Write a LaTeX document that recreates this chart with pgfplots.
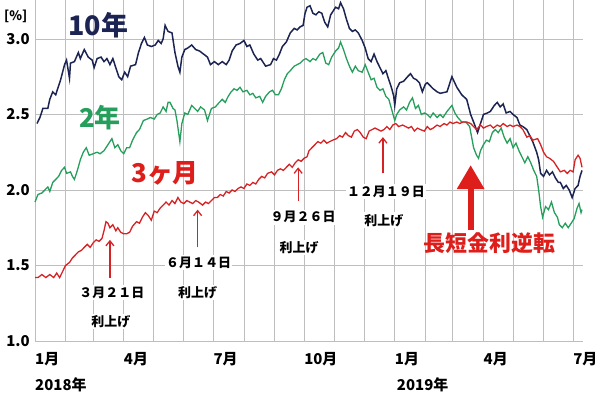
\documentclass[border=0pt]{standalone}
\usepackage{fontspec}
\setmainfont{Noto Sans CJK JP}
\usepackage{pgfplots}
\pgfplotsset{compat=1.18}
\usetikzlibrary{arrows.meta}
\definecolor{navy}{RGB}{27,36,82}
\definecolor{grn}{RGB}{38,158,92}
\definecolor{rd}{RGB}{214,34,36}
\definecolor{txtred}{RGB}{222,30,26}
\definecolor{gridc}{RGB}{190,190,190}
\begin{document}
\begin{tikzpicture}
\path[use as bounding box] (-35bp,-54bp) rectangle (565bp,341bp);
\begin{axis}[
  scale only axis, width=548bp, height=341bp,
  xmin=0, xmax=556, ymin=1, ymax=3.258,
  clip=false,
  axis line style={draw=none},
  major tick length=0pt,
  grid=major,
  major grid style={gridc, line width=0.9bp},
  xtick={0,31,59,90,120,151,181,212,243,273,304,334,365,396,424,455,485,516,546},
  xticklabels={1月,,,4月,,,7月,,,10月,,,1月,,,4月,,,7月},
  xticklabel style={anchor=north west, inner sep=0pt, yshift=-11bp, xshift=0bp, font=\bfseries\fontsize{15}{15}\selectfont},
  ytick={1,1.5,2,2.5,3},
  yticklabel style={anchor=east, inner sep=0pt, xshift=-5bp, font=\bfseries\fontsize{15}{15}\selectfont},
  /pgf/number format/assume math mode=true,
  /pgf/number format/fixed, /pgf/number format/fixed zerofill, /pgf/number format/precision=1,
]
% 2-year
\addplot[grn, line width=1.3bp, mark=none] table {
0 1.92
3 1.97
7 1.98
10 2.00
13 2.02
15 1.99
18 2.05
21 2.07
24 2.09
27 2.13
30 2.15
32 2.11
36 2.12
38 2.09
40 2.07
43 2.13
46 2.20
49 2.25
52 2.28
55 2.23
59 2.24
63 2.25
66 2.24
70 2.26
74 2.30
78 2.34
81 2.28
84 2.30
87 2.26
90 2.24
93 2.28
96 2.28
99 2.33
103 2.38
106 2.40
110 2.46
114 2.47
117 2.48
121 2.47
124 2.50
127 2.51
130 2.55
133 2.52
135 2.58
137 2.58
140 2.54
142 2.53
144 2.46
147 2.32
149 2.44
152 2.51
155 2.50
159 2.56
162 2.54
165 2.52
168 2.55
172 2.53
175 2.46
179 2.54
183 2.55
187 2.58
190 2.60
193 2.58
196 2.62
199 2.65
202 2.67
205 2.66
208 2.68
211 2.65
215 2.66
218 2.63
221 2.64
224 2.61
228 2.62
231 2.58
234 2.62
238 2.65
241 2.66
244 2.63
247 2.63
250 2.67
253 2.73
256 2.77
259 2.79
263 2.82
266 2.83
269 2.84
272 2.86
275 2.87
279 2.85
282 2.87
285 2.86
289 2.90
292 2.91
295 2.84
298 2.83
301 2.88
305 2.92
308 2.94
310 2.98
313 2.93
316 2.87
319 2.82
322 2.78
325 2.82
328 2.79
332 2.78
335 2.83
338 2.78
341 2.73
344 2.74
347 2.68
350 2.66
353 2.67
356 2.62
359 2.60
362 2.53
365 2.46
367 2.50
370 2.53
374 2.55
377 2.53
380 2.58
383 2.61
386 2.54
389 2.56
392 2.50
395 2.51
398 2.50
401 2.48
404 2.51
408 2.48
411 2.50
414 2.48
418 2.52
423 2.56
426 2.51
429 2.48
433 2.45
437 2.45
441 2.42
443 2.35
445 2.28
448 2.23
450 2.21
452 2.26
455 2.30
458 2.33
461 2.32
464 2.38
467 2.40
470 2.38
473 2.41
476 2.35
479 2.31
482 2.34
485 2.28
488 2.31
491 2.26
494 2.22
497 2.18
500 2.22
503 2.18
506 2.13
509 2.09
511 2.00
513 1.89
515 1.82
518 1.89
521 1.87
524 1.92
527 1.85
530 1.82
532 1.77
535 1.75
538 1.78
541 1.75
544 1.78
547 1.81
550 1.88
552 1.91
554 1.85
555 1.87
};
% 10-year
\addplot[navy, line width=1.5bp, mark=none] table {
2 2.44
5 2.48
8 2.54
13 2.54
15 2.60
18 2.65
21 2.63
23 2.67
26 2.73
28 2.78
30 2.83
32 2.86
35 2.74
36 2.84
40 2.85
44 2.91
46 2.87
50 2.93
54 2.88
58 2.86
60 2.81
63 2.87
67 2.88
70 2.85
73 2.87
76 2.83
79 2.87
82 2.81
85 2.75
88 2.73
91 2.78
94 2.75
97 2.82
102 2.83
105 2.91
108 2.97
111 3.01
114 2.96
118 2.95
122 2.96
125 2.99
128 2.97
130 3.00
132 3.09
135 3.05
139 3.04
142 2.91
145 2.82
147 2.78
149 2.88
152 2.93
155 2.94
159 2.96
163 2.93
167 2.92
171 2.90
175 2.88
178 2.83
182 2.85
186 2.83
190 2.85
194 2.83
197 2.86
200 2.92
204 2.96
208 2.97
212 2.99
215 2.95
218 2.96
222 2.90
226 2.86
229 2.87
232 2.84
234 2.82
239 2.83
242 2.87
245 2.86
248 2.90
251 2.95
255 2.98
259 3.04
263 3.07
266 3.06
269 3.08
272 3.09
274 3.17
276 3.21
279 3.22
282 3.17
285 3.16
288 3.18
291 3.17
294 3.11
297 3.08
300 3.16
305 3.21
308 3.20
310 3.24
313 3.20
316 3.13
319 3.07
322 3.05
325 3.06
328 3.04
332 2.99
335 2.94
338 2.87
341 2.85
344 2.90
347 2.85
350 2.81
353 2.77
356 2.79
359 2.73
362 2.67
364 2.62
365 2.56
367 2.67
370 2.71
374 2.72
378 2.75
381 2.77
384 2.74
387 2.73
390 2.71
393 2.65
396 2.70
398 2.71
404 2.67
408 2.65
411 2.64
418 2.65
423 2.75
428 2.68
433 2.63
438 2.60
442 2.50
445 2.45
449 2.38
452 2.44
455 2.50
459 2.51
462 2.52
466 2.56
469 2.58
472 2.55
475 2.57
478 2.51
482 2.52
485 2.50
489 2.48
492 2.43
495 2.42
499 2.40
502 2.36
505 2.32
509 2.25
511 2.20
513 2.11
516 2.09
519 2.13
522 2.10
525 2.12
528 2.08
531 2.05
533 2.05
536 2.01
539 2.03
542 2.00
545 1.95
548 2.01
551 2.03
553 2.09
555 2.13
};
% 3-month
\addplot[rd, line width=1.3bp, mark=none] table {
0 1.42
3 1.42
7 1.44
11 1.42
15 1.44
19 1.42
22 1.45
25 1.42
28 1.46
31 1.50
35 1.52
38 1.55
41 1.57
44 1.59
47 1.60
50 1.62
53 1.64
56 1.62
59 1.65
62 1.67
65 1.66
68 1.68
70 1.73
72 1.79
74 1.78
76 1.75
79 1.77
82 1.73
84 1.75
87 1.72
90 1.71
93 1.71
96 1.72
99 1.76
103 1.79
106 1.78
109 1.82
112 1.85
115 1.83
118 1.80
121 1.86
124 1.85
127 1.88
130 1.90
133 1.92
136 1.90
139 1.93
142 1.91
145 1.95
148 1.92
151 1.91
154 1.93
157 1.92
160 1.91
163 1.93
166 1.92
170 1.90
173 1.92
176 1.91
179 1.93
182 1.95
185 1.95
188 1.97
191 1.96
194 1.99
197 1.98
200 2.00
203 1.99
206 2.01
209 2.02
212 2.01
215 2.04
218 2.03
221 2.05
224 2.04
227 2.07
230 2.09
233 2.08
236 2.11
240 2.12
243 2.10
246 2.13
249 2.14
252 2.13
255 2.15
258 2.17
261 2.15
264 2.18
267 2.20
270 2.19
273 2.21
276 2.22
278 2.26
281 2.28
284 2.30
287 2.32
290 2.31
293 2.33
296 2.31
299 2.32
302 2.33
306 2.34
309 2.36
312 2.35
315 2.38
318 2.36
321 2.35
324 2.39
327 2.40
330 2.38
333 2.35
336 2.34
339 2.39
342 2.40
345 2.41
348 2.40
351 2.39
354 2.40
357 2.42
360 2.40
363 2.43
366 2.44
369 2.42
373 2.43
376 2.42
379 2.41
382 2.42
385 2.39
388 2.41
391 2.40
395 2.39
398 2.42
401 2.40
404 2.41
408 2.43
411 2.42
415 2.44
418 2.43
421 2.45
424 2.44
428 2.45
431 2.44
434 2.45
438 2.45
442 2.44
445 2.42
448 2.40
452 2.43
455 2.41
458 2.42
462 2.43
465 2.41
469 2.43
472 2.42
475 2.44
479 2.42
482 2.43
485 2.42
489 2.43
492 2.42
495 2.40
499 2.35
502 2.36
505 2.33
510 2.34
513 2.30
516 2.25
519 2.22
522 2.21
526 2.19
530 2.15
533 2.12
537 2.13
540 2.11
543 2.13
546 2.12
548 2.20
551 2.23
553 2.21
555 2.15
};
% series labels
\node[navy, font=\bfseries\fontsize{27}{27}\selectfont] at (axis cs:64,3.09) {10年};
\node[grn, font=\bfseries\fontsize{26}{26}\selectfont] at (axis cs:66,2.48) {2年};
\node[txtred, font=\bfseries\fontsize{26}{26}\selectfont] at (axis cs:132,2.11) {3ヶ月};
\node[txtred, font=\bfseries\fontsize{22}{22}\selectfont] at (axis cs:461,1.65) {長短金利逆転};
% big arrow
\draw[txtred, line width=6bp, -{Triangle[width=26bp,length=24bp]}] (axis cs:442,1.735) -- (axis cs:442,2.165);
% rate hike arrows
\draw[rd, line width=1.3bp, -{Straight Barb[length=5bp,width=8bp]}] (axis cs:76,1.42) -- (axis cs:76,1.67);
\draw[rd, line width=1.3bp, -{Straight Barb[length=5bp,width=8bp]}] (axis cs:165,1.62) -- (axis cs:165,1.87);
\draw[rd, line width=1.3bp, -{Straight Barb[length=5bp,width=8bp]}] (axis cs:267,1.93) -- (axis cs:267,2.15);
\draw[rd, line width=1.3bp, -{Straight Barb[length=5bp,width=8bp]}] (axis cs:353,2.11) -- (axis cs:353,2.35);
% rate hike labels
\tikzset{hike/.style={fill=white, inner sep=1.5bp, font=\bfseries\fontsize{13}{13}\selectfont}}
\node[hike] at (axis cs:78,1.32) {３月２１日};
\node[hike] at (axis cs:77,1.13) {利上げ};
\node[hike] at (axis cs:166,1.52) {６月１４日};
\node[hike] at (axis cs:165,1.32) {利上げ};
\node[hike] at (axis cs:272,1.82) {９月２６日};
\node[hike] at (axis cs:268,1.62) {利上げ};
\node[hike] at (axis cs:356,1.99) {１２月１９日};
\node[hike] at (axis cs:354,1.80) {利上げ};
% outer labels
\node[anchor=west, inner sep=0pt, font=\bfseries\fontsize{15}{15}\selectfont, yshift=-44bp] at (axis cs:0,1) {2018年};
\node[anchor=west, inner sep=0pt, font=\bfseries\fontsize{15}{15}\selectfont, yshift=-44bp, xshift=2bp] at (axis cs:365,1) {2019年};
\node[anchor=west, inner sep=0pt, font=\bfseries\fontsize{13}{13}\selectfont, xshift=-31bp] at (axis cs:0,3.15) {[\%]};
\end{axis}
\end{tikzpicture}
\end{document}
